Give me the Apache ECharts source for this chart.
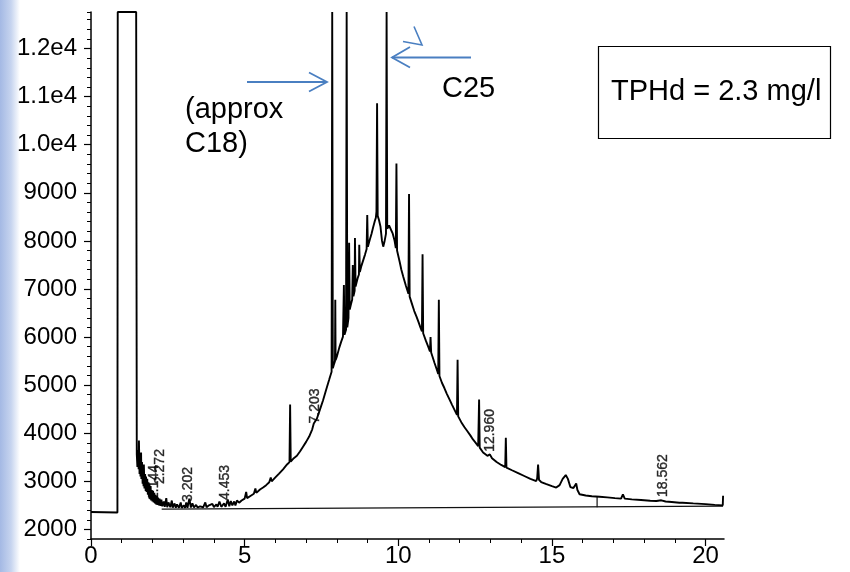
<!DOCTYPE html>
<html><head><meta charset="utf-8">
<script src="https://cdn.jsdelivr.net/npm/echarts@6/dist/echarts.min.js"></script>
<style>html,body{margin:0;padding:0;background:#fff}#c{width:850px;height:572px}</style>
</head><body><div id="c"></div>
<script>
// Chromatogram trace: [retention time (min), abundance]
const chromatogram = [
 [0,2360],[0.86,2350],[0.87,12760],[1.47,12760],[1.49,3560],
 [1.51,3300],[1.53,3650],[1.55,3250],[1.56,3850],[1.58,3150],[1.60,3500],[1.61,3100],[1.63,3600],
 [1.64,3050],[1.66,3400],[1.68,2950],[1.69,3300],[1.71,2900],[1.72,3350],[1.74,2850],[1.76,3150],
 [1.78,2800],[1.79,3100],[1.81,2780],[1.83,3050],[1.85,2720],[1.87,2980],[1.89,2680],[1.90,2950],
 [1.92,2640],[1.94,2900],[1.96,2600],[1.98,2820],[2.00,2580],[2.02,2800],[2.04,2560],[2.06,2760],
 [2.08,2540],[2.10,2720],[2.12,2520],[2.14,2700],[2.16,2510],[2.18,2660],[2.21,2500],[2.23,2640],
 [2.26,2490],[2.29,2620],[2.32,2480],
 [2.37,2580],[2.40,2470],[2.45,2650],[2.48,2460],[2.52,2560],[2.58,2460],[2.63,2600],[2.66,2455],
 [2.72,2540],[2.76,2450],[2.80,2520],[2.86,2450],[2.92,2560],[2.95,2450],[3.02,2500],[3.06,2450],
 [3.10,2560],[3.14,2450],[3.20,2640],[3.25,2455],[3.30,2540],[3.35,2455],[3.42,2510],[3.47,2455],
 [3.55,2480],[3.65,2460],[3.72,2560],[3.76,2460],[3.84,2500],[3.90,2460],[3.95,2530],[4.00,2465],
 [4.08,2520],[4.12,2470],[4.18,2580],[4.24,2470],[4.33,2540],[4.38,2470],[4.45,2620],[4.50,2480],
 [4.55,2590],[4.60,2500],[4.66,2580],[4.70,2500],[4.75,2600],[4.82,2555],
 [4.90,2600],[5.00,2640],[5.05,2780],[5.08,2650],[5.20,2700],[5.30,2740],[5.35,2850],[5.38,2760],
 [5.50,2830],[5.60,2870],[5.70,2920],[5.80,2980],[5.85,3080],[5.88,3000],[6.00,3080],[6.12,3160],
 [6.25,3250],[6.38,3350],[6.46,3400],[6.48,4595],[6.50,3410],[6.60,3480],[6.70,3530],[6.80,3620],
 [6.90,3720],[7.00,3820],[7.10,3930],[7.20,4080],[7.25,4200],[7.30,4220],[7.35,4300],[7.45,4490],
 [7.55,4680],[7.65,4900],[7.75,5110],[7.83,5280],[7.85,12760],[7.87,5350],[7.90,5420],[7.94,5500],
 [7.95,6775],[7.96,5520],[8.00,5590],[8.08,5780],[8.14,5900],[8.20,6010],[8.23,7080],[8.25,6050],
 [8.30,6150],[8.32,12760],[8.34,6200],[8.38,6400],[8.40,7960],[8.42,6570],[8.46,6680],[8.50,6780],
 [8.52,7500],[8.54,6850],[8.58,6960],[8.59,8060],[8.61,7050],[8.64,7130],[8.68,7230],[8.72,7300],
 [8.73,7920],[8.75,7350],[8.80,7480],[8.86,7600],[8.92,7720],[8.97,7830],[8.99,8540],[9.01,7880],
 [9.07,8020],[9.13,8150],[9.18,8280],[9.23,8400],[9.27,8480],[9.29,8610],[9.31,10860],[9.33,8520],
 [9.37,8440],[9.42,8300],[9.47,8000],[9.51,7880],[9.55,7980],[9.60,8150],[9.62,12760],[9.64,8250],
 [9.70,8320],[9.76,8300],[9.82,8150],[9.88,8000],[9.92,7850],[9.94,9610],[9.96,7800],[10.05,7550],
 [10.10,7400],[10.16,7260],[10.25,7060],[10.33,6900],[10.35,8975],[10.37,6840],[10.45,6680],
 [10.52,6540],[10.59,6430],[10.66,6310],[10.72,6200],[10.77,6120],[10.79,7720],[10.81,6080],
 [10.90,5920],[10.98,5790],[11.03,5700],[11.05,6000],[11.07,5680],[11.12,5580],[11.18,5460],
 [11.25,5330],[11.30,5230],[11.32,6775],[11.34,5190],[11.42,5050],[11.50,4940],[11.58,4820],
 [11.67,4700],[11.75,4590],[11.85,4460],[11.91,4380],[11.93,5530],[11.95,4350],[12.05,4230],
 [12.15,4130],[12.25,4040],[12.35,3950],[12.43,3870],[12.52,3800],[12.60,3730],[12.63,4700],
 [12.65,3700],[12.76,3600],[12.90,3530],[12.98,3560],[13.05,3480],[13.20,3400],[13.35,3340],
 [13.48,3295],[13.50,3905],[13.52,3285],[13.70,3230],[13.90,3170],[14.10,3110],[14.30,3050],
 [14.49,3005],[14.52,3060],[14.55,3350],[14.58,3030],[14.65,2985],[14.80,2945],[15.00,2900],
 [15.14,2870],[15.25,2920],[15.35,3050],[15.45,3130],[15.52,3050],[15.60,2880],[15.70,2860],
 [15.76,2900],[15.79,2955],[15.83,2820],[15.90,2730],[16.10,2705],[16.30,2690],[16.55,2680],
 [16.80,2665],[17.05,2650],[17.25,2640],[17.31,2730],[17.37,2640],[17.60,2625],[17.90,2610],
 [18.20,2595],[18.40,2590],[18.56,2605],[18.70,2580],[18.90,2570],[19.15,2555],[19.20,2590],
 [19.25,2555],[19.60,2540],[20.00,2525],[20.30,2510],[20.56,2500],[20.57,2700]
];
// Integration baseline and integration mark
const baselineTrace = [[2.3,2420],[20.57,2485]];
const integrationMark = [[16.47,2462],[16.47,2685]];
// Peak retention-time labels
const peakLabelTimes = [2.05, 2.24, 3.17, 4.38, 7.30, 12.98, 18.61];
const peakLabelBase  = [2560, 2890, 2520, 2560, 4150, 3560, 2620];
const peakLabelTexts = ['2.144','2.272','3.202','4.453','7.203','12.960','18.562'];
// Axis ticks
const xLabelValues = [0, 5, 10, 15, 20];
const xMinorValues = [0,1,2,3,4,5,6,7,8,9,10,11,12,13,14,15,16,17,18,19,20];
const yLabelValues = [2000,3000,4000,5000,6000,7000,8000,9000,10000,11000,12000];

const FONT = 'Liberation Sans, Arial, sans-serif';
const blue = '#4a7fc1';
const chart = echarts.init(document.getElementById('c'), null, {renderer:'canvas'});
const yFmt = v => v >= 10000 ? (v/10000).toFixed(1) + 'e4' : String(v);
const hiddenLine = {show:true, onZero:false, lineStyle:{color:'rgba(0,0,0,0)', width:0}};

chart.setOption({
  animation: false,
  backgroundColor: '#fff',
  grid: {left: 91, right: 126, top: 12, bottom: 33},
  xAxis: [
    {type:'value', min:0, max:20.6, position:'bottom',
     axisLine:{show:true, onZero:false, lineStyle:{color:'#000', width:1.5}},
     axisTick:{show:true, customValues:xLabelValues, length:7, lineStyle:{color:'#000', width:1.2}},
     axisLabel:{customValues:xLabelValues, fontSize:24, color:'#000', fontFamily:FONT, margin:5},
     splitLine:{show:false}},
    {type:'value', min:0, max:20.6, position:'bottom',
     axisLine:hiddenLine,
     axisTick:{show:true, customValues:xMinorValues, length:4, lineStyle:{color:'#000', width:1}},
     axisLabel:{show:false}, splitLine:{show:false}}
  ],
  yAxis: [
    {type:'value', min:1800, max:12760, position:'left',
     axisLine:{show:true, onZero:false, lineStyle:{color:'#000', width:1.5}},
     axisTick:{show:true, customValues:yLabelValues, length:7, lineStyle:{color:'#000', width:1.2}},
     axisLabel:{customValues:yLabelValues, formatter:yFmt, fontSize:24, color:'#000', fontFamily:FONT, margin:14},
     splitLine:{show:false}},
    {type:'value', min:1800, max:12760, interval:200, position:'left',
     axisLine:hiddenLine,
     axisTick:{show:true, length:4, lineStyle:{color:'#000', width:1}},
     axisLabel:{show:false}, splitLine:{show:false}}
  ],
  series: [
    {type:'line', xAxisIndex:0, yAxisIndex:0, data:chromatogram, showSymbol:false, symbol:'none',
     lineStyle:{color:'#000', width:1.9}, clip:true, z:3},
    {type:'line', xAxisIndex:0, yAxisIndex:0, data:baselineTrace, showSymbol:false, symbol:'none',
     lineStyle:{color:'#111', width:1.2}, z:2},
    {type:'line', xAxisIndex:0, yAxisIndex:0, data:integrationMark, showSymbol:false, symbol:'none',
     lineStyle:{color:'#111', width:1.2}, z:2},
    {type:'scatter', xAxisIndex:0, yAxisIndex:0, symbolSize:1,
     itemStyle:{color:'rgba(0,0,0,0)'},
     data: peakLabelTimes.map((t,i)=>[t, peakLabelBase[i]]),
     label:{show:true, position:'top', distance:2, rotate:90, align:'left', verticalAlign:'middle',
            fontSize:14, color:'#000', fontFamily:FONT, textBorderColor:'#000', textBorderWidth:0.4,
            formatter: p => peakLabelTexts[p.dataIndex]}, z:4}
  ],
  graphic: [
    {type:'rect', left:0, top:0, shape:{x:0,y:0,width:20,height:572}, z:-10,
     style:{fill:new echarts.graphic.LinearGradient(0,0,1,0,[
       {offset:0,color:'#a4b9e4'},{offset:0.55,color:'#c6d4ef'},{offset:1,color:'#ffffff'}])}},
    // Arrow toward C18 peak
    {type:'polyline', shape:{points:[[247,82],[327,82]]}, style:{stroke:blue, lineWidth:1.8, fill:null}, z:10},
    {type:'polyline', shape:{points:[[309,72.5],[327,82],[309,91.5]]}, style:{stroke:blue, lineWidth:1.8, fill:null}, z:10},
    // Arrow toward C25 peak
    {type:'polyline', shape:{points:[[471,57.5],[392,57.5]]}, style:{stroke:blue, lineWidth:1.8, fill:null}, z:10},
    {type:'polyline', shape:{points:[[410,47],[392,57.5],[410,67.5]]}, style:{stroke:blue, lineWidth:1.8, fill:null}, z:10},
    // stray chevron mark
    {type:'polyline', shape:{points:[[403,41.5],[422,45],[414,26.5]]}, style:{stroke:blue, lineWidth:1.6, fill:null}, z:10},
    {type:'text', x:185, y:110, style:{text:'(approx', font:'29px '+FONT, fill:'#000', textAlign:'left', textVerticalAlign:'middle'}, z:10},
    {type:'text', x:185, y:144, style:{text:'C18)', font:'29px '+FONT, fill:'#000', textAlign:'left', textVerticalAlign:'middle'}, z:10},
    {type:'text', x:442, y:89, style:{text:'C25', font:'29px '+FONT, fill:'#000', textAlign:'left', textVerticalAlign:'middle'}, z:10},
    {type:'rect', shape:{x:598.5,y:46.5,width:232,height:92}, style:{fill:'#fff', stroke:'#000', lineWidth:1.2}, z:10},
    {type:'text', x:611, y:92, style:{text:'TPHd = 2.3 mg/l', font:'29px '+FONT, fill:'#000', textAlign:'left', textVerticalAlign:'middle'}, z:11}
  ]
});
</script></body></html>
